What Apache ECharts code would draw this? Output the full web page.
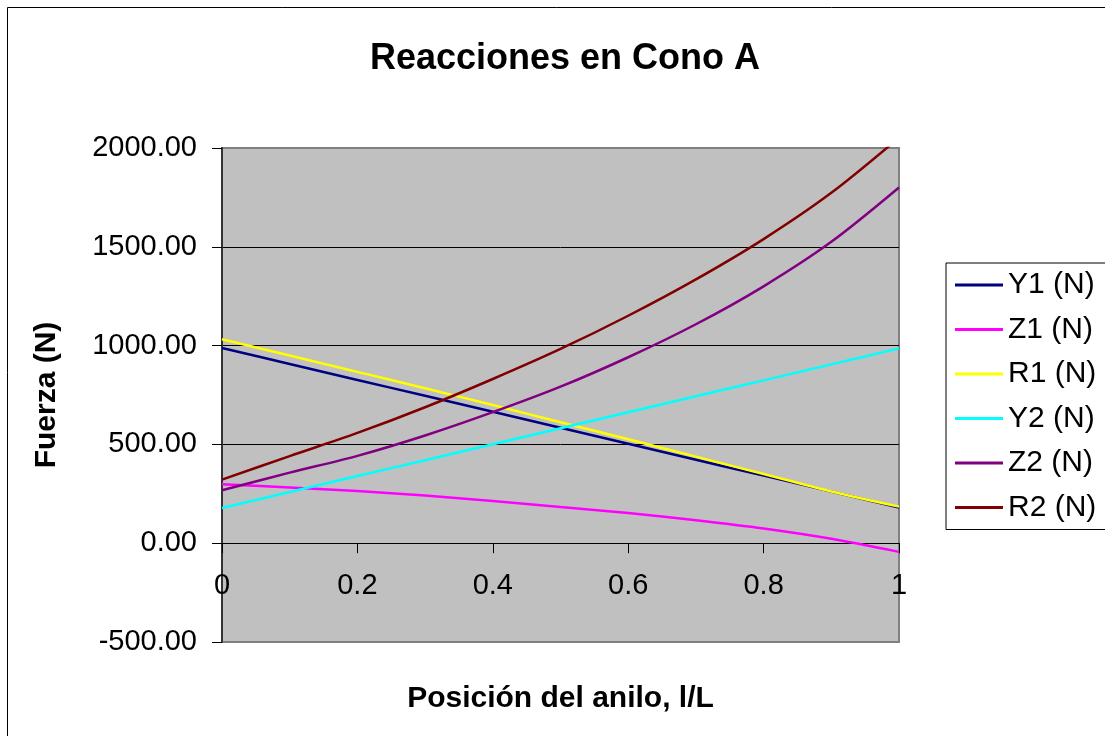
<!DOCTYPE html>
<html>
<head>
<meta charset="utf-8">
<title>Reacciones en Cono A</title>
<script src="https://cdn.jsdelivr.net/npm/echarts@6/dist/echarts.min.js"></script>
<style>
  html, body { margin: 0; padding: 0; background: #ffffff; }
  #chart { width: 1105px; height: 736px; }
</style>
</head>
<body>
<div id="chart"></div>
<script>
// Ring position along the shaft (l/L)
const posicion = [0, 0.1, 0.2, 0.3, 0.4, 0.5, 0.6, 0.7, 0.8, 0.9, 1.0];

// Reactions at bearing 1 (N)
const Y1 = [988, 907, 826, 746, 665, 584, 503, 422, 342, 261, 180];
const Z1 = [298, 282, 264, 241, 214, 183, 153, 116, 74, 22, -44];
const R1 = [1032, 950, 867, 784, 699, 612, 526, 438, 350, 262, 185];

// Reactions at bearing 2 (N)
const Y2 = [178, 259, 340, 420, 501, 582, 663, 744, 824, 905, 986];
const Z2 = [268, 357, 442, 545, 663, 792, 941, 1108, 1300, 1525, 1800];
const R2 = [322, 441, 558, 688, 831, 983, 1151, 1335, 1539, 1773, 2052];

const seriesNames = ['Y1 (N)', 'Z1 (N)', 'R1 (N)', 'Y2 (N)', 'Z2 (N)', 'R2 (N)'];
const seriesValues = [Y1, Z1, R1, Y2, Z2, R2];
const seriesColors = ['#000080', '#FF00FF', '#FFFF00', '#00FFFF', '#800080', '#800000'];

const FONT = "'Liberation Sans', Arial, Helvetica, sans-serif";

const chart = echarts.init(document.getElementById('chart'), null, { renderer: 'canvas' });

const series = seriesNames.map((name, i) => ({
  name: name,
  type: 'line',
  data: posicion.map((x, k) => [x, seriesValues[i][k]]),
  smooth: 0.3,
  symbol: 'none',
  clip: true,
  lineStyle: { color: seriesColors[i], width: 2.5 },
  itemStyle: { color: seriesColors[i] },
  emphasis: { disabled: true }
}));

chart.setOption({
  animation: false,
  backgroundColor: '#ffffff',
  textStyle: { fontFamily: FONT },
  graphic: [{
    type: 'rect',
    shape: { x: 7.5, y: 7.5, width: 1200, height: 800 },
    style: { fill: 'none', stroke: '#000000', lineWidth: 1 },
    z: -10
  }],
  title: {
    text: 'Reacciones en Cono A',
    left: 565,
    textAlign: 'center',
    top: 41,
    padding: 0,
    textStyle: { fontFamily: FONT, fontSize: 36, fontWeight: 'bold', color: '#000000', lineHeight: 36 }
  },
  legend: {
    orient: 'vertical',
    left: 946,
    top: 263,
    padding: [7, 14, 7, 9],
    icon: 'rect',
    itemWidth: 48,
    itemHeight: 3,
    itemGap: 14.5,
    borderColor: '#000000',
    borderWidth: 1,
    backgroundColor: '#ffffff',
    data: seriesNames,
    textStyle: { fontFamily: FONT, fontSize: 30, color: '#000000', lineHeight: 30 }
  },
  grid: {
    left: 222,
    top: 148,
    right: 206,
    bottom: 94,
    outerBoundsMode: 'none',
    show: true,
    backgroundColor: '#C0C0C0',
    borderColor: '#808080',
    borderWidth: 2
  },
  xAxis: {
    type: 'value',
    min: 0,
    max: 1,
    interval: 0.2,
    name: 'Posición del anilo, l/L',
    nameLocation: 'middle',
    nameGap: 42,
    nameTextStyle: { fontFamily: FONT, fontSize: 30, fontWeight: 'bold', color: '#000000', lineHeight: 30 },
    axisLine: { show: true, onZero: true, lineStyle: { color: '#000000', width: 1 } },
    axisTick: { show: true, length: 10, lineStyle: { color: '#000000', width: 1 } },
    axisLabel: { margin: -71, fontFamily: FONT, fontSize: 29, color: '#000000' },
    splitLine: { show: false }
  },
  yAxis: {
    type: 'value',
    min: -500,
    max: 2000,
    interval: 500,
    name: 'Fuerza (N)',
    nameLocation: 'middle',
    nameGap: 160,
    nameRotate: 90,
    nameTextStyle: { fontFamily: FONT, fontSize: 30, fontWeight: 'bold', color: '#000000', lineHeight: 30 },
    axisLine: { show: true, lineStyle: { color: '#333333', width: 2 } },
    axisTick: { show: true, length: 10, lineStyle: { color: '#000000', width: 1 } },
    axisLabel: {
      margin: 25,
      fontFamily: FONT,
      fontSize: 29,
      color: '#000000',
      formatter: v => v.toFixed(2)
    },
    splitLine: {
      show: true,
      showMinLine: false,
      showMaxLine: false,
      lineStyle: { color: '#000000', width: 1 }
    }
  },
  series: series
});
</script>
</body>
</html>
